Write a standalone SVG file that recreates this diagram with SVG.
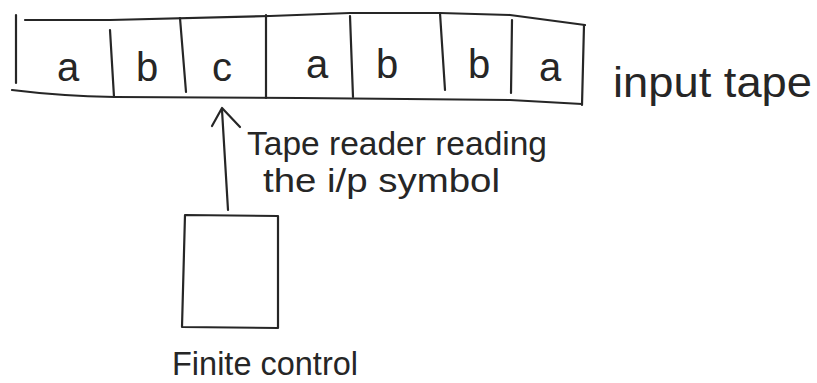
<svg xmlns="http://www.w3.org/2000/svg" width="817" height="383" viewBox="0 0 817 383">
  <style>
    .ink { fill: none; stroke: #262626; stroke-width: 2.2; stroke-linecap: round; stroke-linejoin: round; }
    .sym { font-family: "Liberation Sans", Arial, sans-serif; font-size: 40px; fill: #262626; text-anchor: middle; }
    .lbl { font-family: "Liberation Sans", Arial, sans-serif; fill: #262626; }
  </style>
  <rect width="817" height="383" fill="#ffffff"/>

  <!-- input tape with seven cells -->
  <g id="tape">
    <path class="ink" d="M 25,20 L 110,20 L 270,16 L 350,13 L 440,13 L 510,15 L 585,25"/>
    <path class="ink" d="M 12,90 Q 60,96 115,97 L 300,98 L 510,100 L 582,104"/>
    <path class="ink" d="M 16,15 L 16,83"/>
    <path class="ink" d="M 584,25 L 582,105"/>
    <path class="ink" d="M 110,30 L 114,97"/>
    <path class="ink" d="M 180,18 L 186,92"/>
    <path class="ink" d="M 266,15 L 266,98"/>
    <path class="ink" d="M 350,16 L 353,97"/>
    <path class="ink" d="M 440,13 L 445,90"/>
    <path class="ink" d="M 512,20 L 511,93"/>
    <text class="sym" x="68" y="81">a</text>
    <text class="sym" x="147" y="81">b</text>
    <text class="sym" x="222" y="81">c</text>
    <text class="sym" x="317" y="78">a</text>
    <text class="sym" x="387" y="78">b</text>
    <text class="sym" x="479" y="78">b</text>
    <text class="sym" x="550" y="81">a</text>
  </g>

  <g id="tape-label">
    <text class="lbl" x="613" y="97" font-size="42" textLength="199" lengthAdjust="spacingAndGlyphs">input tape</text>
  </g>

  <!-- finite control box -->
  <g id="finite-control">
    <path class="ink" d="M 185,215 L 278,216 L 278,328 L 182,327 Z"/>
    <text class="lbl" x="172" y="375" font-size="33" textLength="186" lengthAdjust="spacingAndGlyphs">Finite control</text>
  </g>

  <!-- tape head: arrow from control up to the tape -->
  <g id="connectors">
    <path class="ink" d="M 228,210 L 222,110"/>
    <path class="ink" d="M 212,126 L 222,108 L 240,127"/>
  </g>

  <g id="head-label">
    <text class="lbl" x="247" y="155" font-size="33" textLength="300" lengthAdjust="spacingAndGlyphs">Tape reader reading</text>
    <text class="lbl" x="263" y="192" font-size="33" textLength="237" lengthAdjust="spacingAndGlyphs">the i/p symbol</text>
  </g>
</svg>
